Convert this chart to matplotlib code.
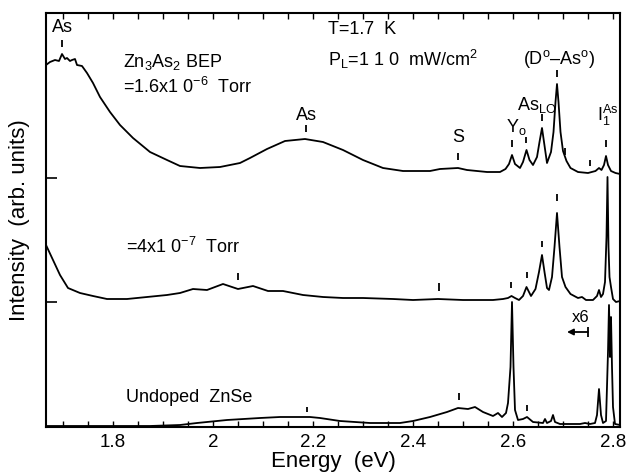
import matplotlib
matplotlib.use("Agg")
import matplotlib.pyplot as plt
from matplotlib.ticker import MultipleLocator, FixedLocator

plt.rcParams["font.family"] = ["Liberation Sans", "DejaVu Sans"]
plt.rcParams["mathtext.fontset"] = "custom"
plt.rcParams["mathtext.rm"] = "Liberation Sans"
plt.rcParams["mathtext.default"] = "regular"

# spectra: energy (eV) and offset intensity (arb. units)
top_energy = [1.666, 1.674, 1.684, 1.692, 1.698, 1.704, 1.708, 1.714, 1.718, 1.724,
              1.728, 1.738, 1.748, 1.760, 1.774, 1.794, 1.814, 1.840, 1.874, 1.908,
              1.934, 1.974, 2.014, 2.054, 2.074, 2.108, 2.144, 2.184, 2.220, 2.260,
              2.300, 2.340, 2.380, 2.434, 2.454, 2.490, 2.508, 2.548, 2.574, 2.585,
              2.592, 2.598, 2.604, 2.614, 2.620, 2.627, 2.633, 2.640, 2.648, 2.653,
              2.658, 2.662, 2.668, 2.676, 2.681, 2.685, 2.688, 2.691, 2.695, 2.700,
              2.707, 2.715, 2.730, 2.750, 2.765, 2.772, 2.777, 2.782, 2.786, 2.790,
              2.796, 2.805, 2.814]
top_signal = [362, 365, 367, 366, 373, 368, 369, 366, 367, 368,
              362, 361, 354, 344, 330, 315, 302, 289, 275, 267,
              261, 259, 260, 264, 269, 278, 286, 288, 285, 277,
              267, 259, 256, 256, 258, 259, 257, 255, 255, 258,
              263, 272, 263, 259, 265, 277, 267, 262, 270, 285,
              299, 285, 264, 275, 295, 325, 343, 325, 295, 276,
              266, 259, 255, 254, 256, 259, 257, 262, 271, 262,
              256, 254, 253]

mid_energy = [1.666, 1.680, 1.694, 1.710, 1.734, 1.760, 1.788, 1.828, 1.868, 1.908,
              1.934, 1.960, 1.988, 2.020, 2.050, 2.080, 2.110, 2.140, 2.180, 2.220,
              2.260, 2.300, 2.360, 2.400, 2.450, 2.500, 2.560, 2.580, 2.590, 2.597,
              2.604, 2.612, 2.620, 2.627, 2.636, 2.645, 2.652, 2.658, 2.663, 2.668,
              2.672, 2.678, 2.683, 2.688, 2.693, 2.698, 2.705, 2.715, 2.730, 2.738,
              2.746, 2.760, 2.768, 2.772, 2.776, 2.780, 2.784, 2.787, 2.789, 2.791,
              2.793, 2.796, 2.800, 2.806, 2.814]
mid_signal = [182, 167, 152, 139, 134, 131, 128, 128, 130, 132,
              134, 138, 137, 143, 138, 141, 136, 136, 132, 130,
              129, 129, 128, 127, 128, 127, 127, 128, 129, 131,
              129, 127, 131, 140, 131, 138, 155, 172, 155, 139,
              137, 150, 180, 214, 180, 150, 140, 133, 129, 130,
              127, 127, 131, 137, 130, 133, 145, 190, 250, 180,
              150, 140, 128, 125, 126]

low_energy = [1.666, 1.874, 1.934, 1.968, 2.028, 2.094, 2.134, 2.168, 2.194, 2.214,
              2.254, 2.314, 2.374, 2.400, 2.434, 2.468, 2.490, 2.510, 2.524, 2.540,
              2.560, 2.570, 2.578, 2.586, 2.590, 2.595, 2.598, 2.601, 2.604, 2.610,
              2.620, 2.628, 2.640, 2.660, 2.664, 2.668, 2.676, 2.680, 2.684, 2.694,
              2.734, 2.744, 2.754, 2.764, 2.768, 2.772, 2.776, 2.780, 2.786, 2.790,
              2.792, 2.794, 2.796, 2.798, 2.800, 2.804, 2.814]
low_signal = [1, 1, 2, 4, 7, 9, 10, 10, 10, 9,
              6, 4, 4, 6, 10, 15, 19, 18, 20, 15,
              11, 14, 10, 14, 24, 60, 125, 60, 17, 7,
              8, 10, 5, 4, 8, 4, 6, 12, 5, 3,
              3, 4, 3, 4, 12, 38, 12, 4, 6, 75,
              122, 70, 110, 60, 20, 3, 2]

# short vertical peak markers: energy, lower end, upper end
top_marks_e = [1.698, 2.186, 2.490, 2.598, 2.626, 2.658, 2.688, 2.704, 2.754, 2.786]
top_marks_lo = [380, 295, 267, 280, 284, 306, 350, 272, 261, 280]
top_marks_hi = [387, 302, 274, 287, 290, 313, 357, 279, 267, 287]
mid_marks_e = [2.050, 2.452, 2.596, 2.628, 2.658, 2.688]
mid_marks_lo = [147, 136, 139, 149, 180, 226]
mid_marks_hi = [154, 144, 145, 155, 186, 233]
low_marks_e = [2.188, 2.492, 2.628]
low_marks_lo = [15, 27, 16]
low_marks_hi = [20, 34, 22]

baseline_ticks = [125, 249]
major_ticks = [1.8, 2.0, 2.2, 2.4, 2.6, 2.8]
major_labels = ["1.8", "2", "2.2", "2.4", "2.6", "2.8"]

fig = plt.figure(figsize=(6.26, 4.72), dpi=100)
ax = fig.add_axes([46 / 626, 45 / 472, 574 / 626, 414 / 472])

for e, s in [(top_energy, top_signal), (mid_energy, mid_signal), (low_energy, low_signal)]:
    ax.plot(e, s, color="black", lw=1.3, solid_joinstyle="round")

ax.vlines(top_marks_e, top_marks_lo, top_marks_hi, color="black", lw=1.3)
ax.vlines(mid_marks_e, mid_marks_lo, mid_marks_hi, color="black", lw=1.3)
ax.vlines(low_marks_e, low_marks_lo, low_marks_hi, color="black", lw=1.3)

ax.set_xlim(1.666, 2.814)
ax.set_ylim(0, 414)
ax.xaxis.set_major_locator(FixedLocator(major_ticks))
ax.set_xticklabels(major_labels)
ax.xaxis.set_minor_locator(MultipleLocator(0.05))
ax.yaxis.set_major_locator(FixedLocator(baseline_ticks))
ax.set_yticklabels([])
ax.tick_params(axis="x", which="both", direction="in", top=True, length=4,
               width=1.0, labelsize=13.5, pad=5)
ax.tick_params(axis="y", which="both", direction="in", right=False, length=8, width=1.2)
for sp in ax.spines.values():
    sp.set_linewidth(1.5)

ax.set_xlabel("Energy  (eV)", fontsize=16, labelpad=0)
ax.set_ylabel("Intensity  (arb. units)", fontsize=16, labelpad=8)

fs = 13
ax.text(1.698, 399, "As", fontsize=fs, ha="center", va="center")
ax.text(1.82, 365, "Zn$_3$As$_2$ BEP", fontsize=fs, ha="left", va="center")
ax.text(1.82, 340, "=1.6x1 0$^{-6}$  Torr", fontsize=fs, ha="left", va="center")
ax.text(2.23, 397, "T=1.7  K", fontsize=fs, ha="left", va="center")
ax.text(2.23, 368, "P$_L$=1 1 0  mW/cm$^2$", fontsize=fs, ha="left", va="center")
ax.text(2.62, 368, "(D$^o$\u2013As$^o$)", fontsize=fs, ha="left", va="center")
ax.text(2.186, 312, "As", fontsize=fs, ha="center", va="center")
ax.text(2.490, 289, "S", fontsize=fs, ha="center", va="center")
ax.text(2.606, 300, "Y$_o$", fontsize=fs, ha="center", va="center")
ax.text(2.648, 322, "As$_{LO}$", fontsize=fs, ha="center", va="center")
ax.text(2.790, 312, "I$_1^{As}$", fontsize=fs, ha="center", va="center")
ax.text(1.826, 180, "=4x1 0$^{-7}$  Torr", fontsize=fs, ha="left", va="center")
ax.text(1.826, 29, "Undoped  ZnSe", fontsize=fs, ha="left", va="center")
ax.text(2.736, 110, "x6", fontsize=12, ha="center", va="center")

ax.annotate("", xy=(2.708, 95), xytext=(2.75, 95),
            arrowprops=dict(arrowstyle="-|>", color="black", lw=1.3,
                            mutation_scale=9, shrinkA=0, shrinkB=0))
ax.vlines([2.75], [90], [100], color="black", lw=1.3)

fig.savefig("out.png", dpi=100)
